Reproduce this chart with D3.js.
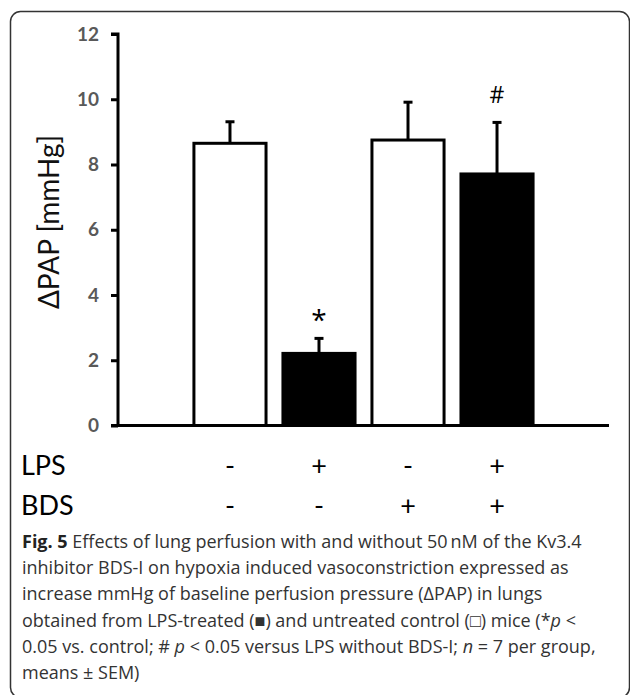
<!DOCTYPE html>
<html>
<head>
<meta charset="utf-8">
<script src="https://cdn.jsdelivr.net/npm/d3@7"></script>
<style>
  body { margin: 0; background: #fff; }
  svg { display: block; }
</style>
</head>
<body>
<svg id="chart" width="630" height="695"></svg>
<script>
// Data
const groups = ['ctrl', 'lps', 'bds', 'lpsBds'];
const means = [8.65, 2.21, 8.75, 7.71];
const sems = [0.66, 0.46, 1.16, 1.58];
const lpsTreated = [false, true, false, true];
const marks = ['', '*', '', '#'];
const lpsRow = ['-', '+', '-', '+'];
const bdsRow = ['-', '-', '+', '+'];
const yTicks = [0, 2, 4, 6, 8, 10, 12];
const captionLines = [
  [{ t: 'Fig. 5', b: true }, { t: ' Effects of lung perfusion with and without 50\u2009nM of the Kv3.4' }],
  [{ t: 'inhibitor BDS-I on hypoxia induced vasoconstriction expressed as' }],
  [{ t: 'increase mmHg of baseline perfusion pressure (\u0394PAP) in lungs' }],
  [{ t: 'obtained from LPS-treated (\u25A0) and untreated control (\u25A1) mice (*' }, { t: 'p', i: true }, { t: ' <' }],
  [{ t: '0.05 vs. control; # ' }, { t: 'p', i: true }, { t: ' < 0.05 versus LPS without BDS-I; ' }, { t: 'n', i: true }, { t: ' = 7 per group,' }],
  [{ t: 'means \u00B1 SEM)' }]
];

const svg = d3.select('#chart');

// Rounded frame (partly cut by the page edge)
svg.append('rect')
  .attr('x', 10.5).attr('y', 11.5)
  .attr('width', 619).attr('height', 686)
  .attr('rx', 10)
  .attr('fill', 'none')
  .attr('stroke', '#333')
  .attr('stroke-width', 1.5);

// Plot area
const x0 = 118, x1 = 609, yBase = 425.5, yTop = 34;

const xScale = d3.scaleBand()
  .domain(groups)
  .range([x0, x1])
  .paddingInner(0.19)
  .paddingOuter(0.853);

const yScale = d3.scaleLinear()
  .domain([0, 12])
  .range([yBase, yTop]);

// Y axis
const yAxis = svg.append('g')
  .attr('transform', `translate(${x0},0)`)
  .call(d3.axisLeft(yScale).tickValues(yTicks).tickSize(7).tickPadding(12));
yAxis.select('.domain').attr('stroke', '#000').attr('stroke-width', 3)
  .attr('d', `M-7,${yTop}H0V${yBase}`);
yAxis.selectAll('.tick line').attr('stroke', '#000').attr('stroke-width', 3);
yAxis.selectAll('.tick text')
  .attr('fill', '#595959')
  .style('font-family', 'Lato, "Open Sans", sans-serif')
  .style('font-weight', 700)
  .style('font-size', '19px');

// Bars
const bars = svg.append('g');
bars.selectAll('rect')
  .data(groups)
  .join('rect')
  .attr('x', d => xScale(d))
  .attr('y', (d, i) => yScale(means[i]))
  .attr('width', xScale.bandwidth())
  .attr('height', (d, i) => yBase - yScale(means[i]))
  .attr('fill', (d, i) => lpsTreated[i] ? '#000' : '#fff')
  .attr('stroke', '#000')
  .attr('stroke-width', 3);

// Error bars (upper half only)
const cx = d => xScale(d) + xScale.bandwidth() / 2;
const errs = svg.append('g').attr('stroke', '#000').attr('stroke-width', 3);
errs.selectAll('line.stem')
  .data(groups)
  .join('line')
  .attr('class', 'stem')
  .attr('x1', cx).attr('x2', cx)
  .attr('y1', (d, i) => yScale(means[i]))
  .attr('y2', (d, i) => yScale(means[i] + sems[i]));
errs.selectAll('line.cap')
  .data(groups)
  .join('line')
  .attr('class', 'cap')
  .attr('x1', d => cx(d) - 4.5).attr('x2', d => cx(d) + 4.5)
  .attr('y1', (d, i) => yScale(means[i] + sems[i]))
  .attr('y2', (d, i) => yScale(means[i] + sems[i]));

// Baseline (x axis)
svg.append('line')
  .attr('x1', x0 - 7).attr('x2', x1)
  .attr('y1', yBase).attr('y2', yBase)
  .attr('stroke', '#000').attr('stroke-width', 3);

// Significance marks
svg.append('g').selectAll('text')
  .data(groups)
  .join('text')
  .attr('x', cx)
  .attr('y', (d, i) => yScale(means[i] + sems[i]) - (marks[i] === '*' ? 8 : 19))
  .attr('text-anchor', 'middle')
  .style('font-family', '"Open Sans", sans-serif')
  .style('font-size', (d, i) => marks[i] === '*' ? '28px' : '23px')
  .text((d, i) => marks[i]);

// Y axis title
svg.append('text')
  .attr('transform', `translate(59,222) rotate(-90)`)
  .attr('text-anchor', 'middle')
  .style('font-family', 'Lato, "Open Sans", sans-serif')
  .style('font-size', '28px')
  .attr('fill', '#111')
  .text('\u0394PAP [mmHg]');

// Treatment rows
const rows = [{ label: 'LPS', signs: lpsRow, y: 475 }, { label: 'BDS', signs: bdsRow, y: 515 }];
rows.forEach(r => {
  const g = svg.append('g')
    .style('font-family', 'Lato, "Open Sans", sans-serif')
    .style('font-size', '27px')
    .attr('fill', '#000');
  g.append('text').attr('x', 21).attr('y', r.y).text(r.label);
  g.selectAll('text.sign')
    .data(groups)
    .join('text')
    .attr('class', 'sign')
    .attr('x', cx)
    .attr('y', r.y)
    .attr('text-anchor', 'middle')
    .text((d, i) => r.signs[i]);
});

// Caption
const cap = svg.append('g')
  .style('font-family', '"Open Sans", sans-serif')
  .style('font-size', '18px')
  .attr('fill', '#333');
captionLines.forEach((parts, li) => {
  const t = cap.append('text').attr('x', 22).attr('y', 548 + li * 26.2);
  parts.forEach(p => {
    t.append('tspan')
      .style('font-weight', p.b ? 700 : 400)
      .style('font-style', p.i ? 'italic' : 'normal')
      .attr('fill', p.b ? '#222' : null)
      .text(p.t);
  });
});
</script>
</body>
</html>
